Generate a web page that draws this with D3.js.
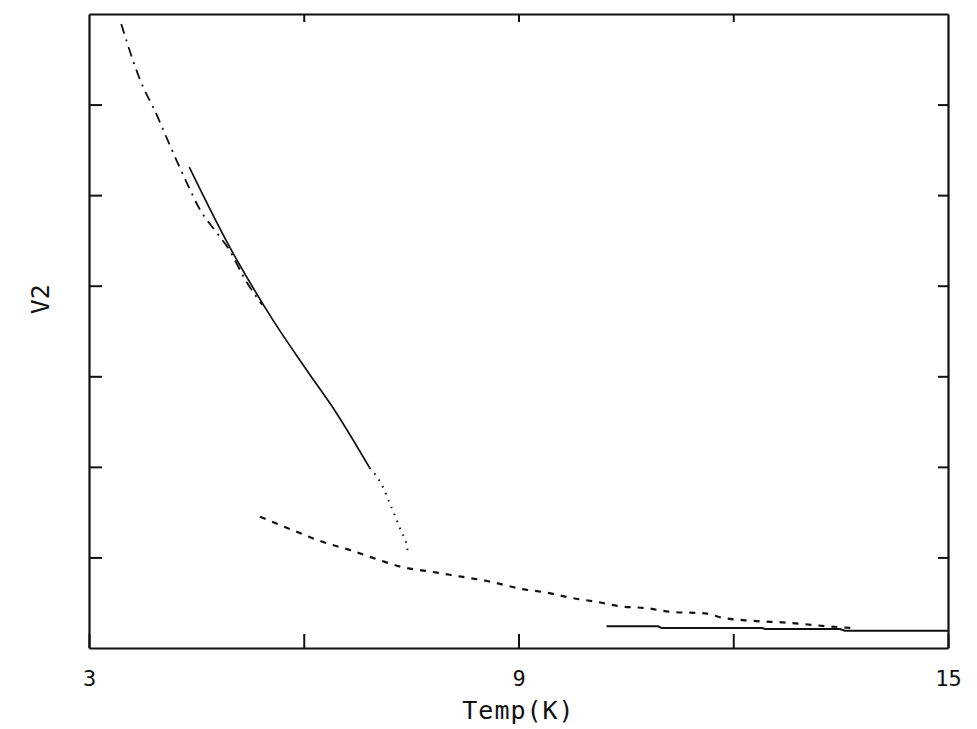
<!DOCTYPE html>
<html>
<head>
<meta charset="utf-8">
<script src="https://cdn.jsdelivr.net/npm/d3@7"></script>
<style>
  body { margin: 0; background: #fff; }
  text { font-family: "DejaVu Sans Mono", monospace; fill: #111; }
</style>
</head>
<body>
<div id="graph"></div>
<script>
// valeurs (Temp en K, V2 sans unite)
const xTicks = [3, 6, 9, 12, 15];
const xLabels = {3: "3", 9: "9", 15: "15"};
const yTicks = [1, 2, 3, 4, 5, 6];

// courbe tiret-point
const dashDotT = [3.45, 3.71, 3.95, 4.13, 4.37, 4.55, 4.79, 4.94, 5.21, 5.42];
const dashDotV = [6.89, 6.28, 5.88, 5.55, 5.13, 4.84, 4.58, 4.42, 4.03, 3.79];

// courbe pleine du haut
const solidT = [4.40, 4.97, 5.29, 5.57, 6.04, 6.46, 6.92];
const solidV = [5.31, 4.42, 3.98, 3.62, 3.07, 2.59, 1.99];

// courbe pointillee
const dotT = [6.92, 7.11, 7.20, 7.29, 7.36, 7.44, 7.46];
const dotV = [1.99, 1.77, 1.60, 1.43, 1.29, 1.13, 1.02];

// courbe en tirets
const dashT = [5.39, 5.85, 6.27, 6.65, 7.06, 7.39, 7.72, 8.18, 8.56, 9.06, 9.40, 9.76,
               10.09, 10.42, 10.79, 11.11, 11.63, 11.81, 12.27, 12.75, 13.31, 13.67];
const dashV = [1.45, 1.30, 1.17, 1.08, 0.97, 0.89, 0.85, 0.79, 0.74, 0.65, 0.61, 0.55,
               0.51, 0.46, 0.44, 0.40, 0.38, 0.34, 0.30, 0.28, 0.24, 0.22];

// courbe pleine du bas (en marches)
const lowT = [10.23, 10.95, 11.00, 12.40, 12.45, 13.49, 13.56, 15.0];
const lowV = [0.24, 0.24, 0.22, 0.22, 0.21, 0.21, 0.19, 0.19];

const margin = {top: 14, right: 29, bottom: 81, left: 89};
const width = 977 - margin.left - margin.right;
const height = 729 - margin.top - margin.bottom;

var svg = d3.select("#graph")
    .append("svg")
    .attr("width", 977)
    .attr("height", 729)
    .append("g")
    .attr("transform", "translate(" + margin.left + "," + margin.top + ")");

var x = d3.scaleLinear().domain([3, 15]).range([0, width]);
var y = d3.scaleLinear().domain([0, 7]).range([height, 0]);

// axes (ticks vers l'interieur)
svg.append("g")
    .attr("transform", "translate(0," + height + ")")
    .call(d3.axisBottom(x).tickValues(xTicks).tickSizeInner(-14).tickSizeOuter(0)
        .tickPadding(22).tickFormat(d => xLabels[d] || ""));

svg.append("g")
    .call(d3.axisTop(x).tickValues(xTicks.slice(1, -1)).tickSizeInner(-8).tickSizeOuter(0)
        .tickFormat(""));

svg.append("g")
    .call(d3.axisLeft(y).tickValues(yTicks).tickSizeInner(-13).tickSizeOuter(0).tickFormat(""));

svg.append("g")
    .attr("transform", "translate(" + width + ",0)")
    .call(d3.axisRight(y).tickValues(yTicks).tickSizeInner(-10).tickSizeOuter(0).tickFormat(""));

svg.selectAll(".domain").attr("stroke", "#111").attr("stroke-width", 2.2);
svg.selectAll(".tick line").attr("stroke", "#111").attr("stroke-width", 2);
svg.selectAll(".tick text").attr("font-size", 22).attr("font-family", "DejaVu Sans Mono").attr("fill", "#111");

var line = d3.line()
    .x(d => x(d[0]))
    .y(d => y(d[1]))
    .curve(d3.curveMonotoneX);

var stepLine = d3.line()
    .x(d => x(d[0]))
    .y(d => y(d[1]));

const curves = [
    {t: dashDotT, v: dashDotV, dash: "10,6,2,6", w: 1.8, gen: line},
    {t: solidT, v: solidV, dash: null, w: 1.7, gen: line},
    {t: dotT, v: dotV, dash: "1.5,6", w: 2, gen: line},
    {t: dashT, v: dashV, dash: "6,7", w: 2.2, gen: line},
    {t: lowT, v: lowV, dash: null, w: 2, gen: stepLine}
];

curves.forEach(c => {
    svg.append("path")
        .datum(c.t.map((t, i) => [t, c.v[i]]))
        .attr("d", c.gen)
        .attr("fill", "none")
        .attr("stroke", "#111")
        .attr("stroke-width", c.w)
        .attr("stroke-dasharray", c.dash);
});

// titres des axes
svg.append("text")
    .attr("x", x(9))
    .attr("y", height + 71)
    .attr("text-anchor", "middle")
    .attr("font-size", 25)
    .attr("letter-spacing", 1)
    .text("Temp(K)");

svg.append("text")
    .attr("transform", "translate(" + (-40) + "," + y(3.85) + ") rotate(-90)")
    .attr("text-anchor", "middle")
    .attr("font-size", 25)
    .text("V2");
</script>
</body>
</html>
